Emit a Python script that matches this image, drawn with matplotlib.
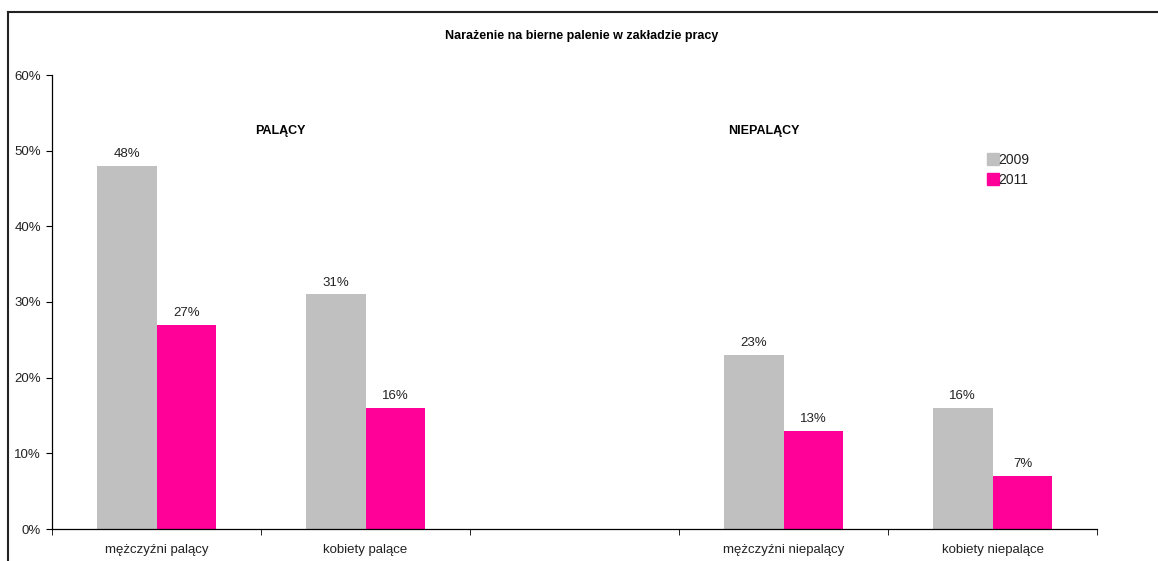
import numpy as np
import matplotlib.pyplot as plt
from matplotlib.lines import Line2D

plt.rcParams['font.family'] = ['Liberation Sans', 'DejaVu Sans']

# data
categories = ['mężczyźni palący', 'kobiety palące', '', 'mężczyźni niepalący', 'kobiety niepalące']
values_2009 = [48, 31, np.nan, 23, 16]
values_2011 = [27, 16, np.nan, 13, 7]
series_names = ['2009', '2011']
colors = ['#C0C0C0', '#FF0099']

fig = plt.figure(figsize=(11.58, 5.61), dpi=100)
ax = fig.add_axes([52/1158, 1 - 529/561, (1097 - 52)/1158, (529 - 75)/561])

x = np.arange(len(categories))
w = 0.287
b1 = ax.bar(x - w/2, values_2009, w, color=colors[0], label=series_names[0])
b2 = ax.bar(x + w/2, values_2011, w, color=colors[1], label=series_names[1])

for bars, vals in [(b1, values_2009), (b2, values_2011)]:
    for rect, v in zip(bars, vals):
        if np.isnan(v):
            continue
        ax.annotate(f'{v:.0f}%', (rect.get_x() + rect.get_width()/2, v),
                    xytext=(0, 4), textcoords='offset points',
                    ha='center', va='bottom', fontsize=9.5, color='#222222')

ax.set_xlim(-0.5, len(categories) - 0.5)
ax.set_ylim(0, 60)
ax.set_yticks(range(0, 61, 10))
ax.set_yticklabels([f'{t}%' for t in range(0, 61, 10)], fontsize=9.5, color='#222222')
ax.set_xticks(x)
ax.set_xticklabels(categories, fontsize=9.5, color='#222222')
ax.tick_params(axis='x', length=0, pad=11)
ax.set_xticks(np.arange(-0.5, len(categories)), minor=True)
ax.tick_params(axis='x', which='minor', length=4, direction='out')
ax.tick_params(axis='y', length=4, direction='out', pad=4)
for s in ['top', 'right']:
    ax.spines[s].set_visible(False)
for s in ['left', 'bottom']:
    ax.spines[s].set_linewidth(0.9)

ax.text(0.593, 52.6, 'PALĄCY', ha='center', va='center', fontsize=9, fontweight='bold')
ax.text(2.904, 52.6, 'NIEPALĄCY', ha='center', va='center', fontsize=9, fontweight='bold')

fig.text(582/1158, 1 - 36/561, 'Narażenie na bierne palenie w zakładzie pracy',
         ha='center', va='center', fontsize=9, fontweight='bold')

handles = [Line2D([], [], marker='s', linestyle='none', markersize=8,
                  markerfacecolor=c, markeredgecolor=c) for c in colors]
fig.legend(handles, series_names, loc='upper left',
           bbox_to_anchor=(989/1158, 1 - 153/561), frameon=False,
           fontsize=10, handlelength=0.6, handletextpad=0.1,
           labelspacing=0.45, borderpad=0, borderaxespad=0,
           labelcolor='#222222')

# outer chart frame (top and left edges visible)
fig.add_artist(Line2D([8/1158, 1], [1 - 12/561, 1 - 12/561],
                      transform=fig.transFigure, color='#222222', lw=1.5))
fig.add_artist(Line2D([8/1158, 8/1158], [0, 1 - 12/561],
                      transform=fig.transFigure, color='#222222', lw=1.5))

fig.savefig('out.png', dpi=100)
